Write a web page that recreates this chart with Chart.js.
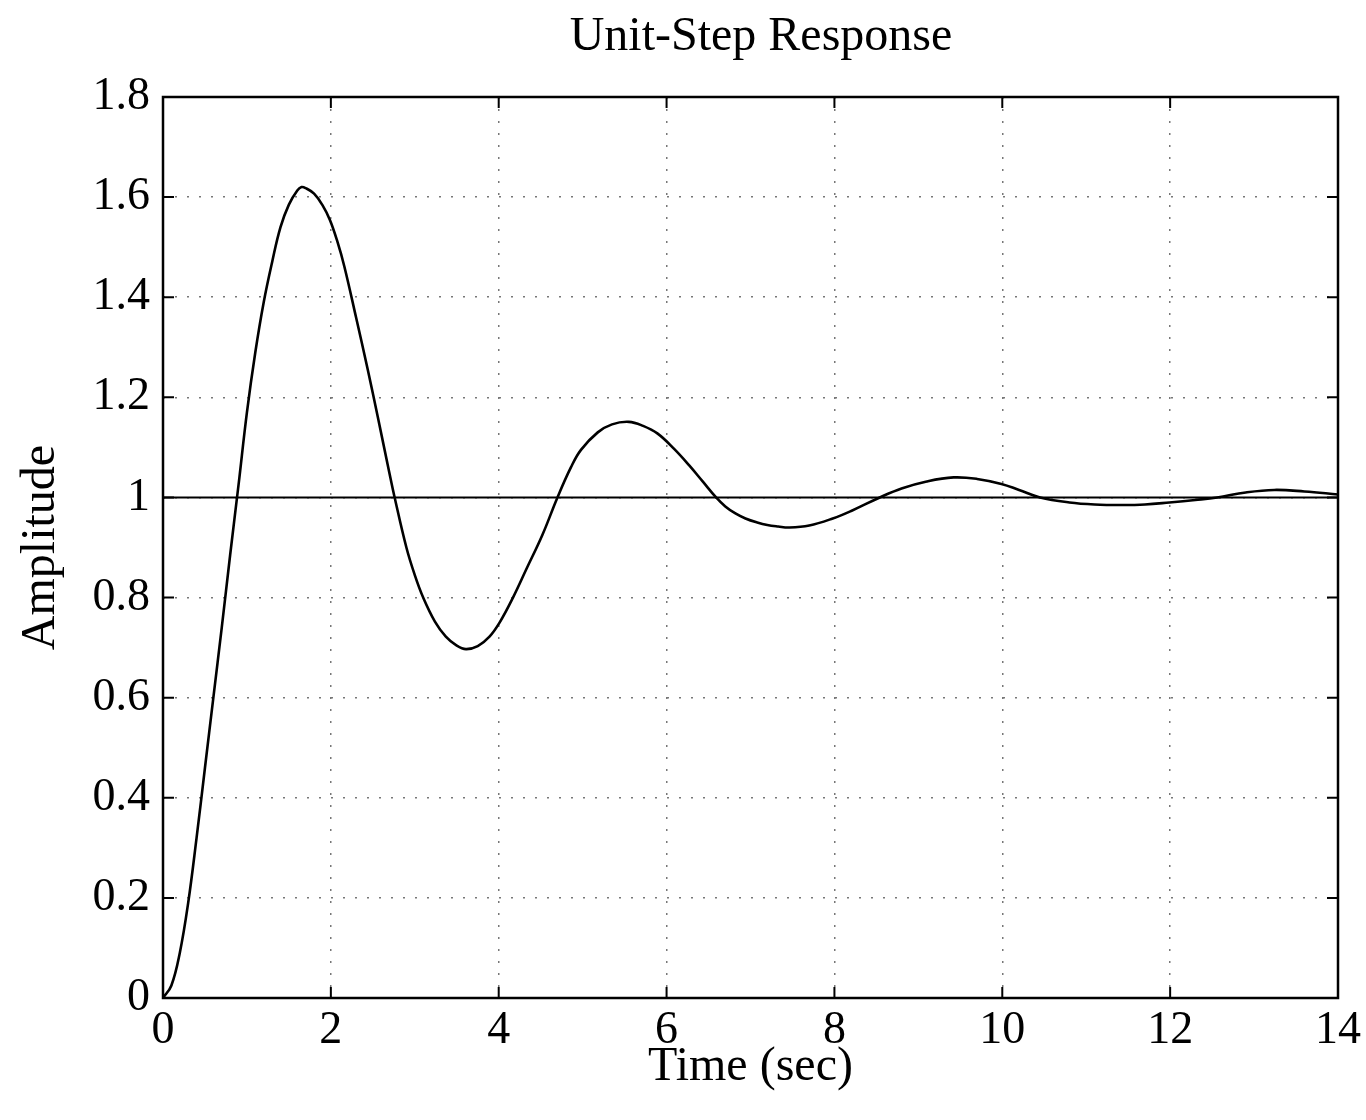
<!DOCTYPE html>
<html>
<head>
<meta charset="utf-8">
<script src="https://cdn.jsdelivr.net/npm/chart.js@4.4.3/dist/chart.umd.min.js"></script>
<style>
  html, body { margin: 0; padding: 0; background: #fff; }
  #wrap { width: 1366px; height: 1120px; }
</style>
</head>
<body>
<div id="wrap"><canvas id="chart" width="1366" height="1120"></canvas></div>
<script>
// values (time in sec, amplitude)
const times = [0, 0.1, 0.2, 0.3, 0.4, 0.5, 0.6, 0.7, 0.8, 0.9, 1.0, 1.1, 1.2, 1.3, 1.4, 1.5, 1.6, 1.65, 1.7, 1.8, 1.9,
  1.99, 2.08, 2.16, 2.3, 2.44, 2.56, 2.69, 2.76, 2.9, 3.0, 3.1, 3.24, 3.37, 3.5, 3.61, 3.75, 3.89,
  4.01, 4.17, 4.33, 4.52, 4.7, 4.86, 4.98, 5.18, 5.35, 5.55, 5.72, 5.89,
  6.09, 6.27, 6.43, 6.59, 6.7, 6.82, 6.94, 7.08, 7.2, 7.33, 7.46, 7.7, 7.98, 8.2, 8.54, 8.8, 9.1, 9.42, 9.7, 9.99,
  10.2, 10.45, 10.8, 11.1, 11.43, 11.7, 11.99, 12.3, 12.56, 12.9, 13.24, 13.6, 14];
const amplitude = [0, 0.025, 0.09, 0.19, 0.32, 0.46, 0.6, 0.74, 0.885, 1.025, 1.17, 1.29, 1.39, 1.47, 1.54, 1.585, 1.613, 1.62, 1.618, 1.607, 1.584,
  1.554, 1.51, 1.462, 1.36, 1.255, 1.16, 1.055, 1.0, 0.9, 0.845, 0.8, 0.752, 0.722, 0.704, 0.697, 0.703, 0.722,
  0.75, 0.8, 0.857, 0.925, 1.0, 1.06, 1.095, 1.13, 1.146, 1.151, 1.143, 1.128,
  1.097, 1.064, 1.032, 1.0, 0.982, 0.968, 0.958, 0.95, 0.945, 0.942, 0.94, 0.944, 0.958, 0.973, 1.0, 1.018, 1.032, 1.04, 1.037, 1.027,
  1.015, 1.0, 0.99, 0.986, 0.985, 0.986, 0.99, 0.995, 1.0, 1.01, 1.015, 1.012, 1.006];

// steady-state reference line
const refTimes = [0, 14];
const refAmplitude = [1, 1];

const xTickLabels = ['0', '2', '4', '6', '8', '10', '12', '14'];
const yTickLabels = ['0', '0.2', '0.4', '0.6', '0.8', '1', '1.2', '1.4', '1.6', '1.8'];
const chartTitle = 'Unit-Step Response';

const serif = "'Liberation Serif', 'DejaVu Serif', serif";

// title sits a little right of the canvas centre, over the plot box
const plotTitle = {
  id: 'plotTitle',
  afterDraw(chart) {
    const { ctx } = chart;
    ctx.save();
    ctx.fillStyle = '#000';
    ctx.font = `48px ${serif}`;
    ctx.textAlign = 'center';
    ctx.textBaseline = 'middle';
    ctx.fillText(chartTitle, 761, 37);
    ctx.restore();
  }
};

// box round the plot with inward tick marks on all four sides
const frameTicks = {
  id: 'frameTicks',
  afterDraw(chart) {
    const { ctx, chartArea: a, scales: { x, y } } = chart;
    const len = 11;
    ctx.save();
    ctx.strokeStyle = '#000';
    ctx.lineWidth = 2;
    ctx.beginPath();
    x.ticks.forEach(t => {
      const px = x.getPixelForValue(t.value);
      ctx.moveTo(px, a.bottom); ctx.lineTo(px, a.bottom - len);
      ctx.moveTo(px, a.top); ctx.lineTo(px, a.top + len);
    });
    y.ticks.forEach(t => {
      const py = y.getPixelForValue(t.value);
      ctx.moveTo(a.left, py); ctx.lineTo(a.left + len, py);
      ctx.moveTo(a.right, py); ctx.lineTo(a.right - len, py);
    });
    ctx.stroke();
    ctx.lineWidth = 2.5;
    ctx.strokeRect(a.left, a.top, a.right - a.left, a.bottom - a.top);
    ctx.restore();
  }
};

new Chart(document.getElementById('chart'), {
  type: 'line',
  data: {
    datasets: [
      {
        label: 'Response',
        data: times.map((t, i) => ({ x: t, y: amplitude[i] })),
        borderColor: '#000',
        borderWidth: 2.6,
        pointRadius: 0,
        tension: 0.4,
        fill: false
      },
      {
        label: 'Steady state',
        data: refTimes.map((t, i) => ({ x: t, y: refAmplitude[i] })),
        borderColor: '#000',
        borderWidth: 2,
        pointRadius: 0,
        fill: false
      }
    ]
  },
  options: {
    responsive: false,
    animation: false,
    layout: { padding: { left: 0, right: 26, top: 97, bottom: 0 } },
    plugins: {
      legend: { display: false },
      tooltip: { enabled: false },
      title: { display: false }
    },
    scales: {
      x: {
        type: 'linear',
        min: 0,
        max: 14,
        afterFit: s => { s.height = 122; },
        ticks: {
          stepSize: 2,
          color: '#000',
          padding: 5,
          maxRotation: 0,
          font: { family: serif, size: 46 },
          callback: (v, i) => xTickLabels[i]
        },
        grid: { color: '#777', lineWidth: 1.5, drawTicks: false },
        border: { display: false, dash: [2, 10] },
        title: {
          display: true,
          text: 'Time (sec)',
          color: '#000',
          font: { family: serif, size: 48 },
          padding: { top: 0, bottom: 24 }
        }
      },
      y: {
        type: 'linear',
        min: 0,
        max: 1.8,
        afterFit: s => { s.width = 163; },
        ticks: {
          stepSize: 0.2,
          color: '#000',
          padding: 13,
          font: { family: serif, size: 46 },
          callback: (v, i) => yTickLabels[i]
        },
        grid: { color: '#777', lineWidth: 1.5, drawTicks: false },
        border: { display: false, dash: [2, 10] },
        title: {
          display: true,
          text: 'Amplitude',
          color: '#000',
          font: { family: serif, size: 48 },
          padding: { top: 13, bottom: 0 }
        }
      }
    }
  },
  plugins: [frameTicks, plotTitle]
});
</script>
</body>
</html>
